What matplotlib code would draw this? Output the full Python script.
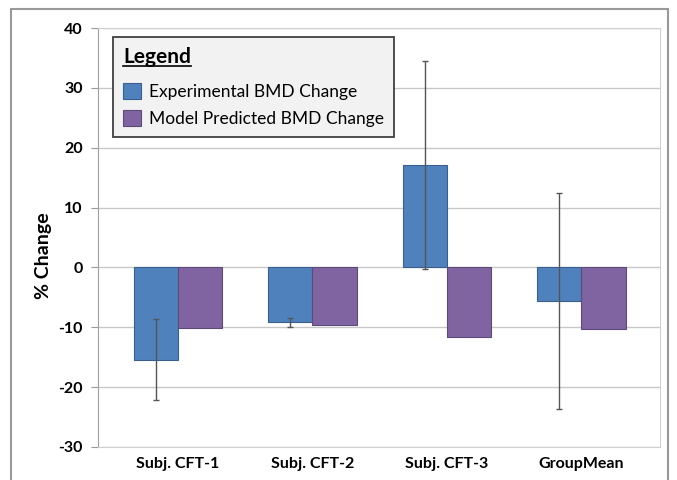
import numpy as np
import matplotlib.pyplot as plt
from matplotlib.patches import Rectangle
from matplotlib.lines import Line2D

plt.rcParams['font.family'] = ['Lato', 'DejaVu Sans']

# dados
categorias = ['Subj. CFT-1', 'Subj. CFT-2', 'Subj. CFT-3', 'GroupMean']
experimental = [-15.4, -9.2, 17.1, -5.6]
erro_exp = [6.8, 0.75, 17.4, 18.1]
modelo = [-10.1, -9.7, -11.7, -10.3]
series = ['Experimental BMD Change', 'Model Predicted BMD Change']
yticks = [-30, -20, -10, 0, 10, 20, 30, 40]

azul = '#4F81BD'
roxo = '#8064A2'

fig = plt.figure(figsize=(6.77, 4.80), dpi=100)
ax = fig.add_axes([98 / 677, 33 / 480, 562 / 677, 419 / 480])

x = np.arange(len(categorias))
w = 0.33

ax.bar(x - w / 2, experimental, w, color=azul, edgecolor='#3A5F8C', linewidth=0.8,
       label=series[0], zorder=3)
ax.bar(x + w / 2, modelo, w, color=roxo, edgecolor='#5E4A78', linewidth=0.8,
       label=series[1], zorder=3)
ax.errorbar(x - w / 2, experimental, yerr=erro_exp, fmt='none', ecolor='#555555',
            elinewidth=1.0, capsize=2.5, capthick=1.0, zorder=4)

ax.set_xlim(-0.595, 3.584)
ax.set_ylim(-30, 40)
ax.set_yticks(yticks)
ax.set_yticklabels([str(t) for t in yticks], fontweight='bold', fontsize=11.5)
ax.set_xticks(x)
ax.set_xticklabels(categorias, fontweight='bold', fontsize=11.5)
ax.tick_params(axis='x', length=0, pad=7)
ax.tick_params(axis='y', length=5, color='#999999', pad=6)
ax.yaxis.grid(True, color='#C8C8C8', linewidth=1.0, zorder=0)
ax.set_axisbelow(True)
for s in ax.spines.values():
    s.set_color('#D0D0D0')
ax.spines['left'].set_color('#A0A0A0')
ax.set_ylabel('% Change', fontweight='bold', fontsize=14)
ax.yaxis.set_label_coords(-0.082, 0.456)

leg = ax.legend(title='Legend', loc='upper left', bbox_to_anchor=(0.0267, 0.9785),
                borderaxespad=0, fontsize=12.5, frameon=True, fancybox=False,
                handlelength=1.0, handleheight=1.1, handletextpad=0.45,
                borderpad=0.6, labelspacing=0.56, alignment='left')
leg._legend_box.sep = 11  # mais espaco entre o titulo e as entradas
leg.get_frame().set_facecolor('#F2F2F2')
leg.get_frame().set_edgecolor('#404040')
leg.get_frame().set_linewidth(1.3)
leg.get_frame().set_alpha(1)
leg.get_title().set_fontweight('bold')
leg.get_title().set_fontsize(15)
leg.set_zorder(5)

# sublinha o titulo da legenda
fig.canvas.draw()
bb = leg.get_title().get_window_extent().transformed(fig.transFigure.inverted())
fig.add_artist(Line2D([bb.x0, bb.x1], [bb.y0 + 0.003, bb.y0 + 0.003],
                      transform=fig.transFigure, color='black', linewidth=1.2,
                      zorder=10))

# moldura externa
fig.add_artist(Rectangle((11 / 677, -0.01), 657 / 677, 476 / 480,
                         transform=fig.transFigure, fill=False,
                         edgecolor='#999999', linewidth=1.5))

fig.savefig('out.png', dpi=100)
